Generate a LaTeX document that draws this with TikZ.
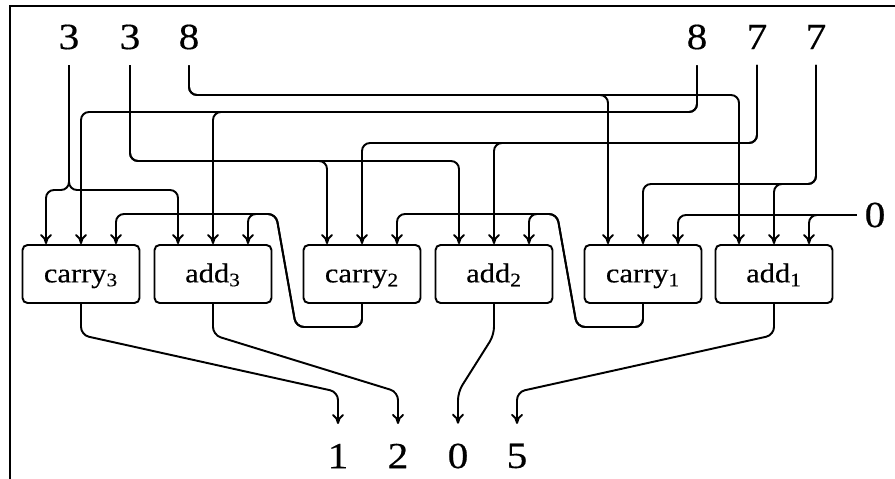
\documentclass[tikz,border=0pt]{standalone}
\usepackage{fontspec}
\setmainfont[FakeStretch=1.12,FakeBold=0.4]{Liberation Serif}
\usetikzlibrary{arrows.meta}
\tikzset{
  unit/.style={draw, line width=1.1pt, rounded corners=0.1cm, minimum width=2.34cm, minimum height=1.16cm, font=\fontsize{15.5}{17}\selectfont, text height=10.5pt, text depth=1pt},
  digit/.style={font=\fontsize{21}{24}\selectfont, inner xsep=0.15cm, inner ysep=0.31cm},
  wire/.style={line width=1.1pt, rounded corners=0.16cm, -{Computer Modern Rightarrow[length=2mm,width=2.4mm]}}
}
\begin{document}
\begin{tikzpicture}[x=0.02cm,y=-0.02cm]
\useasboundingbox (0,0) rectangle (895,479);
\draw[line width=1pt] (10,479) -- (10,6) -- (895,6);
\node[unit] (carry3) at (81,274) {carry\textsubscript{3}};
\node[unit] (add3) at (213,274) {add\textsubscript{3}};
\node[unit] (carry2) at (362,274) {carry\textsubscript{2}};
\node[unit] (add2) at (494,274) {add\textsubscript{2}};
\node[unit] (carry1) at (643,274) {carry\textsubscript{1}};
\node[unit] (add1) at (774,274) {add\textsubscript{1}};
\foreach \u in {carry3,add3,carry2,add2,carry1,add1} {
  \coordinate (\u-l) at ([xshift=-0.7cm]\u.north);
  \coordinate (\u-m) at (\u.north);
  \coordinate (\u-r) at ([xshift=0.7cm]\u.north);
}
\node[digit] (a3) at (69,37) {3};
\node[digit] (a2) at (130,37) {3};
\node[digit] (a1) at (189,37) {8};
\node[digit] (b3) at (697,37) {8};
\node[digit] (b2) at (757,37) {7};
\node[digit] (b1) at (816,37) {7};
\node[digit] (c0) at (875,215) {0};
\node[digit, inner ysep=0.39cm] (s3) at (338,456) {1};
\node[digit, inner ysep=0.39cm] (s2) at (398,456) {2};
\node[digit, inner ysep=0.39cm] (s1) at (458,456) {0};
\node[digit, inner ysep=0.39cm] (s0) at (517,456) {5};
\draw[wire] (a3.south) -- (69,190) -| (carry3-l);
\draw[wire] (a3.south) -- (69,190) -| (add3-l);
\draw[wire] (a2.south) -- (130,161) -| (carry2-l);
\draw[wire] (a2.south) -- (130,161) -| (add2-l);
\draw[wire] (a1.south) -- (189,95) -| (carry1-l);
\draw[wire] (a1.south) -- (189,95) -| (add1-l);
\draw[wire] (b3.south) -- (697,112) -| (carry3-m);
\draw[wire] (b3.south) -- (697,112) -| (add3-m);
\draw[wire] (b2.south) -- (757,143) -| (carry2-m);
\draw[wire] (b2.south) -- (757,143) -| (add2-m);
\draw[wire] (b1.south) -- (816,184) -| (carry1-m);
\draw[wire] (b1.south) -- (816,184) -| (add1-m);
\draw[wire] (c0.west) -| (carry1-r);
\draw[wire] (c0.west) -| (add1-r);
\draw[wire] (carry1.south) -- (643,327) -- (577,327) -- (557,214) -| (add2-r);
\draw[wire] (carry1.south) -- (643,327) -- (577,327) -- (557,214) -| (carry2-r);
\draw[wire] (carry2.south) -- (362,327) -- (296,327) -- (276,214) -| (add3-r);
\draw[wire] (carry2.south) -- (362,327) -- (296,327) -- (276,214) -| (carry3-r);
\draw[wire] (carry3.south) -- (81,335) -- (338,392) -- (s3.north);
\draw[wire] (add3.south) -- (213,335) -- (398,392) -- (s2.north);
\draw[wire] (add2.south) -- (494,335) -- (458,392) -- (s1.north);
\draw[wire] (add1.south) -- (774,335) -- (517,392) -- (s0.north);
\end{tikzpicture}
\end{document}
